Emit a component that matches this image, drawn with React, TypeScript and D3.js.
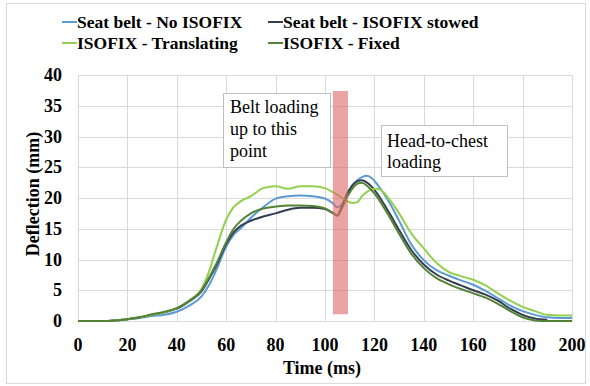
import React, { useRef, useEffect } from "react";
import * as d3 from "d3";

// time axis (ms) shared by every series
const times = [0, 10, 15, 20, 25, 30, 35, 40, 45, 50, 53, 56, 60, 63, 66, 70, 75, 80, 85, 90, 95, 100, 103, 105, 107, 109, 111, 113, 115, 117, 119, 121, 123, 126, 130, 135, 140, 145, 150, 155, 160, 165, 170, 175, 180, 185, 190, 195, 200];

const noIsofix = [0, 0, 0.1, 0.3, 0.5, 0.8, 1.0, 1.5, 2.5, 4.0, 5.8, 8.3, 12.1, 14.0, 15.1, 16.8, 18.5, 19.9, 20.3, 20.4, 20.3, 19.9, 19.2, 18.5, 19.0, 20.8, 22.0, 22.9, 23.4, 23.6, 23.2, 22.3, 21.2, 19.3, 16.3, 12.4, 9.9, 8.3, 7.4, 6.6, 5.9, 4.9, 3.7, 2.5, 1.6, 1.0, 0.6, 0.5, 0.5];
const stowed = [0, 0, 0.1, 0.3, 0.6, 1.0, 1.4, 2.0, 3.2, 4.8, 6.8, 9.0, 12.5, 14.4, 15.5, 16.3, 17.0, 17.5, 18.1, 18.4, 18.4, 18.2, 17.6, 17.2, 18.8, 20.6, 22.0, 22.7, 22.9, 22.5, 21.8, 20.8, 19.6, 17.6, 14.8, 11.5, 9.2, 7.6, 6.6, 5.8, 5.0, 4.3, 3.3, 2.0, 1.0, 0.4, 0.2, null, null];
const translating = [0, 0, 0.1, 0.3, 0.6, 1.0, 1.4, 2.1, 3.3, 5.2, 8.0, 11.8, 16.5, 18.5, 19.5, 20.3, 21.6, 21.9, 21.5, 21.9, 21.9, 21.6, 21.0, 20.5, 20.0, 19.5, 19.2, 19.3, 20.3, 21.0, 21.4, 21.5, 21.2, 19.8, 17.5, 14.2, 11.8, 9.5, 8.0, 7.3, 6.7, 5.8, 4.5, 3.3, 2.3, 1.6, 1.0, 0.9, 0.9];
const fixed = [0, 0, 0.1, 0.3, 0.6, 1.1, 1.5, 2.1, 3.3, 5.0, 7.0, 9.3, 12.8, 15.0, 16.3, 17.5, 18.3, 18.6, 18.8, 18.8, 18.7, 18.3, 17.6, 17.1, 18.5, 20.2, 21.5, 22.3, 22.5, 22.0, 21.2, 20.2, 19.0, 17.0, 14.2, 10.9, 8.6, 7.0, 6.0, 5.2, 4.5, 3.8, 2.8, 1.6, 0.6, 0.1, 0, 0, 0];

const seriesNames = ["Seat belt - No ISOFIX", "Seat belt - ISOFIX stowed", "ISOFIX - Translating", "ISOFIX - Fixed"];
const seriesValues = [noIsofix, stowed, translating, fixed];
const colors = ["#5B9BD5", "#333F50", "#92D050", "#548235"];

const xTicks = [0, 20, 40, 60, 80, 100, 120, 140, 160, 180, 200];
const yTicks = [0, 5, 10, 15, 20, 25, 30, 35, 40];

// belt loading band (ms / mm)
const bandX = [103.2, 109.3];
const bandY = [1.1, 37.4];

const App = () => {
  const ref = useRef<HTMLDivElement>(null);

  const draw = (elt: HTMLDivElement) => {
    d3.select(elt).select("svg").remove();
    const W = 590, H = 386;
    const serif = "Liberation Serif, DejaVu Serif, serif";

    const svg = d3.select(elt).append("svg")
      .attr("width", W).attr("height", H)
      .attr("font-family", serif)
      .style("position", "absolute").style("left", "0px").style("top", "0px")
      .style("background", "#fff");

    svg.append("rect").attr("x", 6.5).attr("y", 3.5).attr("width", 579).attr("height", 380)
      .attr("fill", "#fff").attr("stroke", "#d9d9d9");

    const x = d3.scaleLinear().domain([0, 200]).range([78, 572]);
    const y = d3.scaleLinear().domain([0, 40]).range([321, 75]);

    // grid
    const grid = svg.append("g").attr("stroke", "#d9d9d9").attr("stroke-width", 1);
    yTicks.forEach(t => grid.append("line").attr("x1", x(0)).attr("x2", x(200))
      .attr("y1", Math.round(y(t)) + 0.5).attr("y2", Math.round(y(t)) + 0.5));
    xTicks.forEach(t => grid.append("line").attr("y1", y(0)).attr("y2", y(40))
      .attr("x1", Math.round(x(t)) + 0.5).attr("x2", Math.round(x(t)) + 0.5));

    // tick labels
    svg.append("g").selectAll("text").data(yTicks).enter().append("text")
      .attr("x", 62).attr("y", d => y(d) + 6).attr("text-anchor", "end")
      .attr("font-weight", "700").attr("font-size", 18)
      .text(d => d);
    svg.append("g").selectAll("text").data(xTicks).enter().append("text")
      .attr("x", d => x(d)).attr("y", 351).attr("text-anchor", "middle")
      .attr("font-weight", "700").attr("font-size", 18)
      .text(d => d);

    svg.append("text").attr("transform", "translate(39,194) rotate(-90)")
      .attr("text-anchor", "middle")
      .attr("font-weight", "700").attr("font-size", 18)
      .text("Deflection (mm)");
    svg.append("text").attr("x", 322).attr("y", 374).attr("text-anchor", "middle")
      .attr("font-weight", "700").attr("font-size", 18)
      .text("Time (ms)");

    // lines
    const line = d3.line<number | null>()
      .defined(d => d !== null)
      .x((d, i) => x(times[i]))
      .y(d => y(d as number))
      .curve(d3.curveMonotoneX);
    seriesValues.forEach((vals, i) => {
      svg.append("path").attr("d", line(vals)).attr("fill", "none")
        .attr("stroke", colors[i]).attr("stroke-width", 2).attr("stroke-linejoin", "round");
    });

    // band
    svg.append("rect").attr("x", x(bandX[0])).attr("width", x(bandX[1]) - x(bandX[0]))
      .attr("y", y(bandY[1])).attr("height", y(bandY[0]) - y(bandY[1]))
      .attr("fill", "#e06666").attr("opacity", 0.6);

    // annotation boxes
    const note = (x0: number, x1: number, y0: number, y1: number, lines: string[], tx: number, ty: number[]) => {
      svg.append("rect").attr("x", Math.round(x(x0)) + 0.5).attr("y", Math.round(y(y0)) + 0.5)
        .attr("width", Math.round(x(x1) - x(x0))).attr("height", Math.round(y(y1) - y(y0)))
        .attr("fill", "#fff").attr("stroke", "#bfbfbf");
      lines.forEach((l, i) => svg.append("text").attr("x", tx).attr("y", ty[i])
        .attr("font-size", 18).attr("fill", "#000").text(l));
    };
    note(58.7, 102, 37.1, 25, ["Belt loading", "up to this", "point"], 230, [113, 135, 157]);
    note(122.7, 173.7, 31.9, 23.6, ["Head-to-chest", "loading"], 387, [147, 168]);

    // legend
    const legendPos = [[62, 22], [268, 22], [62, 43], [268, 43]];
    seriesNames.forEach((name, i) => {
      const [lx, ly] = legendPos[i];
      svg.append("line").attr("x1", lx).attr("x2", lx + 15).attr("y1", ly).attr("y2", ly)
        .attr("stroke", colors[i]).attr("stroke-width", 2);
      svg.append("text").attr("x", lx + 15).attr("y", ly + 6)
        .attr("font-weight", "700").attr("font-size", 17.5)
        .text(name);
    });
  };

  useEffect(() => {
    if (ref.current) draw(ref.current);
  }, []);

  return <div ref={ref}></div>;
};

export default App;
